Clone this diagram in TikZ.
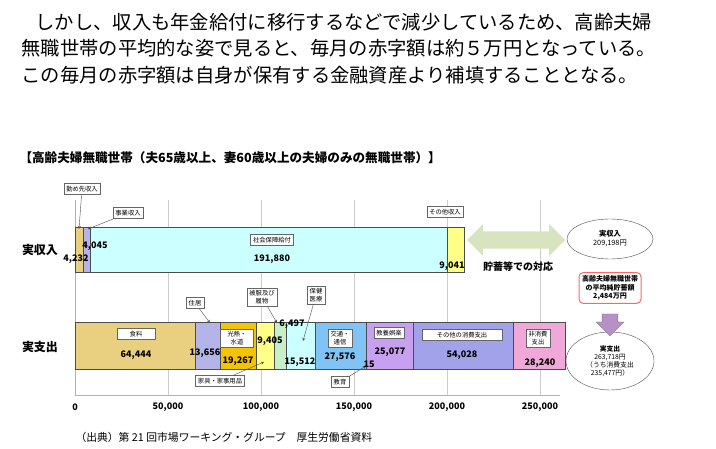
\documentclass[tikz,border=0pt]{standalone}
\usepackage{fontspec}
\setmainfont{Noto Sans CJK JP}
\usetikzlibrary{arrows, shapes.geometric, shapes.arrows}

\definecolor{food}{HTML}{E8D080}
\definecolor{lav}{HTML}{B4B4E8}
\definecolor{cyanl}{HTML}{CCFFFF}
\definecolor{yel}{HTML}{FFFF88}
\definecolor{gold}{HTML}{F5C400}
\definecolor{grn}{HTML}{C8F0C8}
\definecolor{blu}{HTML}{80C4F5}
\definecolor{purp}{HTML}{C8A0F0}
\definecolor{pnk}{HTML}{F0A8D8}
\definecolor{sage}{HTML}{D8E4C0}

\tikzset{
  seg/.style={draw=black!70},
  tag/.style={draw=black!60, fill=white, font=\fontsize{6.3}{7.5}\selectfont, inner sep=2.5pt, align=center},
  num/.style={font=\bfseries\fontsize{9}{10}\selectfont},
  lead/.style={anchor=west, font=\fontsize{19.3}{22}\selectfont},
  pin/.style={->, >=stealth, black!70, thin}
}

\begin{document}
\begin{tikzpicture}[x=1pt, y=-1pt]
\useasboundingbox (0,0) rectangle (716,449);

% lead text
\node[lead] (l1) at (32,22) {しかし、収入も年金給付に移行するなどで減少しているため、高齢夫婦};
\node[lead] (l2) at (18,48) {無職世帯の平均的な姿で見ると、毎月の赤字額は約５万円となっている。};
\node[lead] (l3) at (18,75) {この毎月の赤字額は自身が保有する金融資産より補填することとなる。};

\node[anchor=west, font=\bfseries\fontsize{12.6}{14}\selectfont] (title) at (16,158) {【高齢夫婦無職世帯（夫65歳以上、妻60歳以上の夫婦のみの無職世帯）】};

% grid
\foreach \gx in {168,261,354,447,540}
  \draw[black!20] (\gx,200) -- (\gx,395);
\draw[black!30] (75,200) -- (75,395) -- (560,395);
\foreach \gx/\gl in {75/0,168/{50,000},261/{100,000},354/{150,000},447/{200,000},540/{250,000}}
  \node[num] at (\gx,407) {\gl};

\node[font=\bfseries\fontsize{12}{14}\selectfont] (inc) at (40,250) {実収入};
\node[font=\bfseries\fontsize{12}{14}\selectfont] (exp) at (40,347) {実支出};

% income bar
\fill[seg, fill=food] (75,227) rectangle (83,272);
\fill[seg, fill=lav] (83,227) rectangle (90.5,272);
\fill[seg, fill=cyanl] (90.5,227) rectangle (447,272);
\fill[seg, fill=yel] (447,227) rectangle (464,272);
\draw[seg] (75,227) rectangle (464,272);

\node[tag] (work) at (82,189) {勤め先収入};
\node[tag] (biz) at (128,213) {事業収入};
\node[tag] (soc) at (272,240) {社会保障給付};
\node[tag] (oth) at (445,212) {その他収入};
\coordinate (workend) at (79,229);
\coordinate (bizend) at (88,229);
\draw[pin] (work) -- (workend);
\draw[pin] (biz) -- (bizend);
\node[num] (n4045) at (95,246) {4,045};
\node[num] (n4232) at (76,259) {4,232};
\node[num] (n191880) at (272,259) {191,880};
\node[num] (n9041) at (452,266) {9,041};

% expenditure bar
\fill[seg, fill=food] (75,322) rectangle (195,369);
\fill[seg, fill=lav] (195,322) rectangle (220.5,369);
\fill[seg, fill=gold] (220.5,322) rectangle (256,369);
\fill[seg, fill=yel] (256,322) rectangle (274,369);
\fill[seg, fill=grn] (274,322) rectangle (286,369);
\fill[seg, fill=cyanl] (286,322) rectangle (315,369);
\fill[seg, fill=blu] (315,322) rectangle (366,369);
\fill[seg, fill=purp] (366,322) rectangle (413,369);
\fill[seg, fill=lav!90!blue] (413,322) rectangle (513,369);
\fill[seg, fill=pnk] (513,322) rectangle (565.5,369);
\draw[seg] (75,322) rectangle (565.5,369);

\node[tag, minimum width=38pt] (foodt) at (136,334) {食料};
\node[tag] (house) at (195,303) {住居};
\node[tag, minimum width=33pt] (light) at (237,338) {光熱・\\水道};
\node[tag] (cloth) at (262,297) {被服及び\\履物};
\node[tag] (health) at (316,295) {保健\\医療};
\node[tag] (furn) at (220,381) {家具・家事用品};
\node[tag] (trans) at (340,338) {交通・\\通信};
\node[tag] (edu) at (340,382) {教育};
\node[tag] (culture) at (389,333) {教養娯楽};
\node[tag, minimum width=80pt] (other) at (462,335) {その他の消費支出};
\node[tag] (nonc) at (538,338) {非消費\\支出};
\coordinate (houseend) at (210,323);
\coordinate (clothend) at (277,323);
\coordinate (healthend) at (303,341);
\coordinate (furnend) at (264,362);
\coordinate (eduend) at (366,366);
\draw[pin] (house) -- (houseend);
\draw[pin] (cloth) -- (clothend);
\draw[pin] (health) -- (healthend);
\draw[pin] (furn) -- (furnend);
\draw[pin] (edu) -- (eduend);

\node[num] (n64444) at (136,355) {64,444};
\node[num] (n13656) at (205,353) {13,656};
\node[num] (n19267) at (238,361) {19,267};
\node[num] (n9405) at (270,341) {9,405};
\node[num] (n6497) at (292,324) {6,497};
\node[num] (n15512) at (300,362) {15,512};
\node[num] (n27576) at (340,357) {27,576};
\node[num] (n15) at (369,364) {15};
\node[num] (n25077) at (390,352) {25,077};
\node[num] (n54028) at (462,355) {54,028};
\node[num] (n28240) at (540,363) {28,240};

% right side
\node[ellipse, draw=black!70, minimum width=86pt, minimum height=40pt, align=center, inner sep=1pt,
      font=\fontsize{7.3}{9}\selectfont] (incsum) at (610,239) {\bfseries 実収入\\209,198円};
\node[draw=red!60, rounded corners=4pt, line width=1pt, align=center, inner sep=3pt,
      font=\bfseries\fontsize{7}{8.5}\selectfont] (save) at (610,288) {高齢夫婦無職世帯\\の平均純貯蓄額\\2,484万円};
\node[ellipse, draw=black!70, minimum width=88pt, minimum height=58pt, align=center, inner sep=0pt,
      font=\fontsize{6.8}{8}\selectfont] (expsum) at (610,361) {\bfseries 実支出\\263,718円\\（うち消費支出\\235,477円）};
\node[single arrow, shape border rotate=270, fill=lav!80!purple, draw=black!50, inner sep=5pt,
      minimum height=22pt, minimum width=28pt, single arrow head extend=4pt] (down) at (610,321) {};

\node[double arrow, fill=sage, minimum height=98pt, minimum width=32pt,
      double arrow head extend=6pt, inner sep=7pt] (gap) at (516,240) {};
\node[font=\bfseries\fontsize{10}{12}\selectfont] (cover) at (518,267) {貯蓄等での対応};

\node[anchor=west, font=\fontsize{10.8}{12}\selectfont] (src) at (72,437) {（出典）第 21 回市場ワーキング・グループ　厚生労働省資料};
\end{tikzpicture}
\end{document}
